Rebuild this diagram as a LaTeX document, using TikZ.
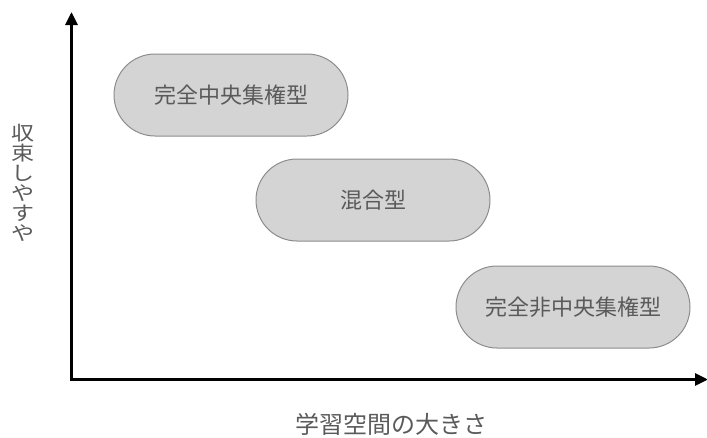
\documentclass[tikz,border=0pt]{standalone}
\usepackage{fontspec}
\setmainfont{Noto Sans CJK JP}
\usetikzlibrary{arrows.meta}
\definecolor{boxfill}{HTML}{D4D4D4}
\definecolor{boxline}{HTML}{8C8C8C}
\definecolor{txt}{HTML}{5A5A5A}
\begin{document}
\begin{tikzpicture}[x=1pt,y=-1pt,
  pill/.style={draw=boxline, line width=1pt, fill=boxfill, rounded corners=41pt,
    minimum width=234pt, minimum height=82pt, inner sep=0pt,
    text=txt, font=\fontsize{22}{26}\selectfont},
  axis/.style={line width=3pt, -{Triangle[length=13pt,width=12pt]}},
  lbl/.style={text=txt, font=\fontsize{24}{28}\selectfont, inner sep=0pt}]
\useasboundingbox (0,0) rectangle (707,437);
\coordinate (o) at (71.5,379.5);
\coordinate (ytop) at (71.5,12);
\coordinate (xend) at (708,379.5);
\draw[axis] ([yshift=-1.5pt]o) -- (ytop);
\draw[axis] ([xshift=-1.5pt]o) -- (xend);
\node[pill] (a) at (231,95) {完全中央集権型};
\node[pill] (b) at (373,200) {混合型};
\node[pill] (c) at (573,307) {完全非中央集権型};
\node[lbl] (xl) at (391,424) {学習空間の大きさ};
\node[lbl, align=center, font=\fontsize{23}{23.5}\selectfont, yscale=0.85, transform shape] (yl) at (23,183) {収\\束\\し\\や\\す\\や};
\end{tikzpicture}
\end{document}
